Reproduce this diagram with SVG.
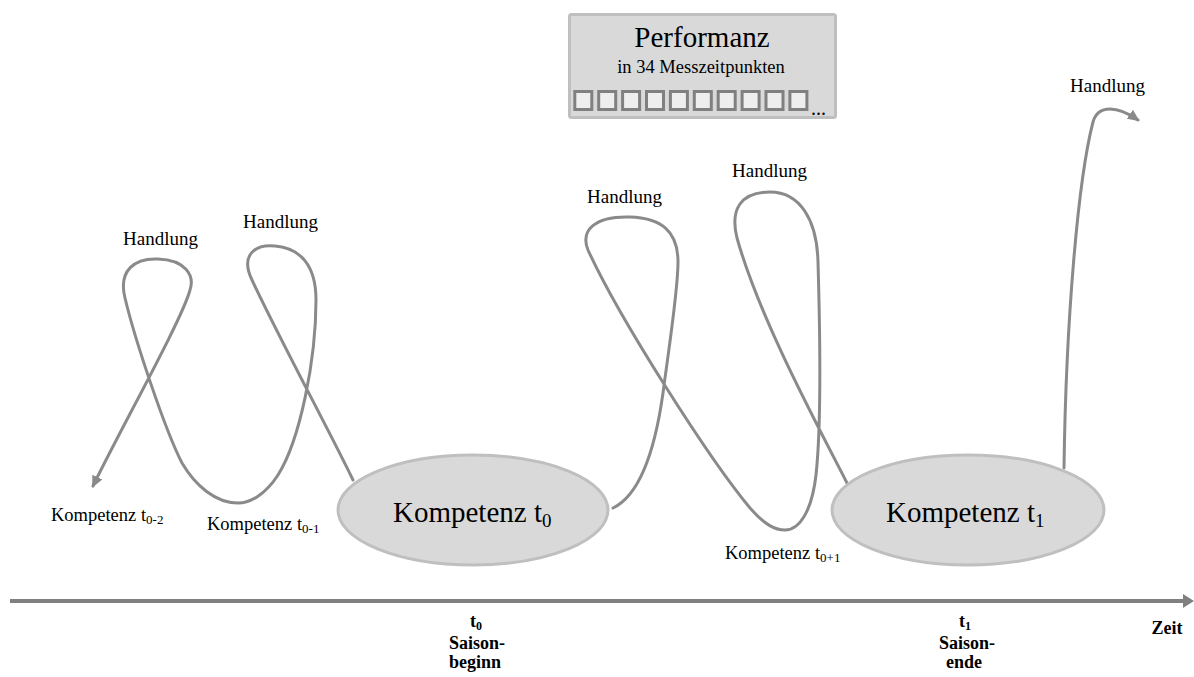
<svg xmlns="http://www.w3.org/2000/svg" width="1194" height="677" viewBox="0 0 1194 677">
  <defs>
    <marker id="arrow" markerUnits="userSpaceOnUse" markerWidth="12" markerHeight="11" viewBox="0 0 12 11" refX="10" refY="5.5" orient="auto">
      <path d="M0,0 L12,5.5 L0,11 z" fill="#8a8a8a"/>
    </marker>
    <style>
      .loop { fill: none; stroke: #8a8a8a; stroke-width: 3; stroke-linecap: round; stroke-linejoin: round; }
      .node { fill: #d9d9d9; stroke: #bfbfbf; stroke-width: 3; }
      .slot { fill: #eeeeee; stroke: #808080; stroke-width: 3; }
      text { font-family: 'Liberation Serif', 'Times New Roman', 'DejaVu Serif', serif; fill: #000; }
      .axis { font-weight: bold; font-size: 18px; text-anchor: middle; }
    </style>
  </defs>
  <rect width="1194" height="677" fill="#ffffff"/>

  <!-- action loops between competence states -->
  <g id="connectors">
    <path class="loop" marker-end="url(#arrow)" d="M 353 480 C 330 432, 280 340, 252 280 C 240 255, 255 244, 275 246 C 300 248, 316 265, 316 300 C 316 360, 300 440, 278 475 C 265 495, 250 503, 238 503 C 215 503, 195 485, 182 463 C 165 430, 135 340, 125 298 C 118 270, 135 258, 158 259 C 185 260, 195 275, 190 290 C 182 320, 120 430, 93 486"/>
    <path class="loop" d="M 613 508 C 640 495, 655 450, 663 393 C 670 340, 678 290, 678 262 C 678 230, 660 218, 630 217 C 595 216, 580 230, 588 250 C 620 320, 710 460, 750 508 C 765 525, 775 530, 785 530 C 800 530, 812 510, 816 475 C 822 420, 820 330, 818 262 C 817 220, 800 192, 770 192 C 740 192, 730 210, 737 238 C 760 320, 820 430, 847 483"/>
    <path class="loop" marker-end="url(#arrow)" d="M 1064 468 C 1066 320, 1078 180, 1093 122 C 1098 104, 1118 106, 1138 120"/>
  </g>

  <!-- measurement box -->
  <g id="performanz">
    <rect class="node" x="569.5" y="14.5" width="266" height="103" rx="2"/>
    <text x="702" y="47" font-family="Liberation Serif, serif" font-size="29" text-anchor="middle">Performanz</text>
    <text x="701" y="73" font-family="Liberation Serif, serif" font-size="18.5" text-anchor="middle">in 34 Messzeitpunkten</text>
    <rect class="slot" x="574.8" y="91.5" width="17" height="18"/>
    <rect class="slot" x="598.7" y="91.5" width="17" height="18"/>
    <rect class="slot" x="622.6" y="91.5" width="17" height="18"/>
    <rect class="slot" x="646.5" y="91.5" width="17" height="18"/>
    <rect class="slot" x="670.4" y="91.5" width="17" height="18"/>
    <rect class="slot" x="694.3" y="91.5" width="17" height="18"/>
    <rect class="slot" x="718.2" y="91.5" width="17" height="18"/>
    <rect class="slot" x="742.1" y="91.5" width="17" height="18"/>
    <rect class="slot" x="766.0" y="91.5" width="17" height="18"/>
    <rect class="slot" x="789.9" y="91.5" width="17" height="18"/>
    <text x="811" y="115" font-size="20">...</text>
  </g>

  <g id="kompetenz-t0">
    <ellipse class="node" cx="473" cy="510" rx="135" ry="55"/>
    <text x="393" y="522" font-size="29">Kompetenz t<tspan font-size="19" dy="5">0</tspan></text>
  </g>

  <g id="kompetenz-t1">
    <ellipse class="node" cx="968" cy="510" rx="136" ry="55"/>
    <text x="886" y="522" font-size="29">Kompetenz t<tspan font-size="19" dy="5">1</tspan></text>
  </g>

  <g id="labels">
    <text x="123" y="245" font-size="19">Handlung</text>
    <text x="243" y="228" font-size="19">Handlung</text>
    <text x="587" y="203" font-size="19">Handlung</text>
    <text x="732" y="177" font-size="19">Handlung</text>
    <text x="1070" y="92" font-size="19">Handlung</text>
    <text x="51" y="521" font-size="18.5">Kompetenz t<tspan font-size="13" dy="3">0-2</tspan></text>
    <text x="207" y="530" font-size="18.5">Kompetenz t<tspan font-size="13" dy="3">0-1</tspan></text>
    <text x="725" y="559" font-size="18.5">Kompetenz t<tspan font-size="13" dy="3">0+1</tspan></text>
  </g>

  <!-- time axis -->
  <g id="zeitachse">
    <line x1="10" y1="601" x2="1184" y2="601" stroke="#808080" stroke-width="4"/>
    <polygon points="1183,594 1194,601 1183,608" fill="#808080"/>
    <text class="axis" x="476" y="627">t<tspan font-size="12" dy="3">0</tspan></text>
    <text class="axis" x="477" y="649">Saison-</text>
    <text class="axis" x="475" y="668">beginn</text>
    <text class="axis" x="965" y="627">t<tspan font-size="12" dy="3">1</tspan></text>
    <text class="axis" x="967" y="649">Saison-</text>
    <text class="axis" x="964" y="668">ende</text>
    <text class="axis" x="1167" y="634">Zeit</text>
  </g>
</svg>
